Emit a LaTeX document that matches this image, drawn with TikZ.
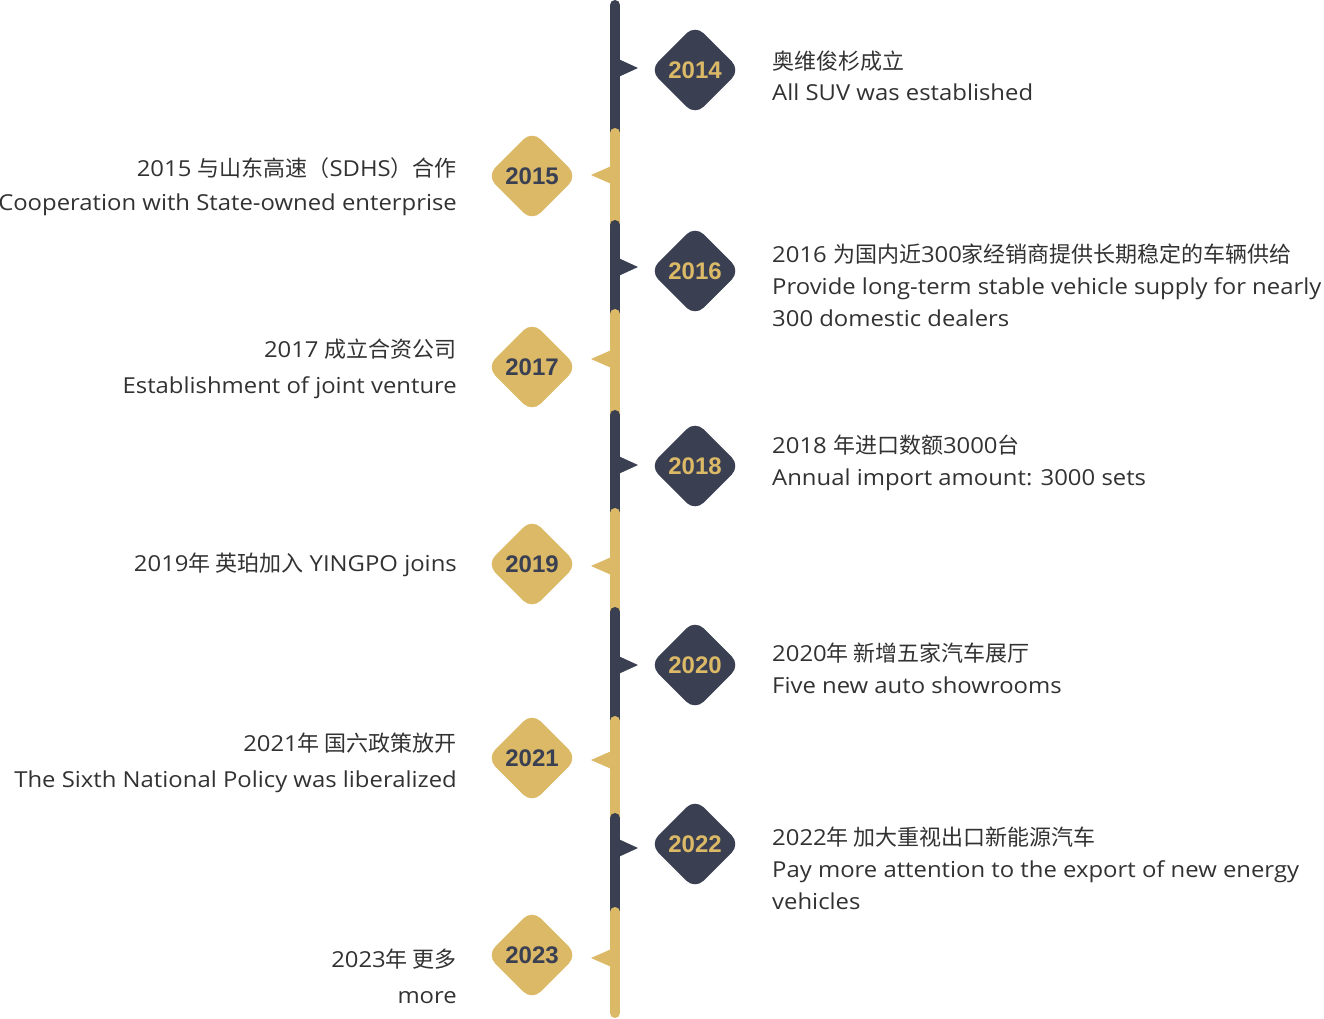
\documentclass[tikz,border=0pt]{standalone}
\usepackage{fontspec}
\setmainfont{Open Sans}[FakeStretch=1.085]
\newfontfamily\cjk{Noto Sans CJK SC}
\newfontfamily\yearfont{Liberation Sans}
\definecolor{navy}{RGB}{58,64,82}
\definecolor{gold}{RGB}{219,185,102}
\definecolor{txt}{RGB}{50,50,50}
\begin{document}
\begin{tikzpicture}[x=1pt,y=-1pt,
  seg/.style={line width=10pt,line cap=round},
  diam/.style={shape=rectangle,rotate=45,minimum size=64pt,rounded corners=12pt,inner sep=0pt},
  yr/.style={font=\yearfont\fontsize{24}{28}\selectfont\bfseries},
  rtxt/.style={anchor=base west,inner sep=0pt,text=txt,font=\fontsize{22}{26}\selectfont},
  ltxt/.style={anchor=base east,inner sep=0pt,text=txt,font=\fontsize{22}{26}\selectfont}]
\useasboundingbox (0,0) rectangle (1324,1019);
% bar segments with pointers
\newcommand{\darkseg}[3]{%
  \draw[seg,navy] (615,#1) -- (615,#2);
  \fill[navy] (614,#3-11) -- (638,#3) -- (614,#3+11) -- cycle;}
\newcommand{\goldseg}[3]{%
  \draw[seg,gold] (615,#1) -- (615,#2);
  \fill[gold] (616,#3-11) -- (591,#3) -- (616,#3+11) -- cycle;}
\darkseg{5}{140}{68}
\goldseg{133}{230}{175}
\darkseg{225}{320}{267}
\goldseg{314}{420}{359}
\darkseg{415}{518}{465}
\goldseg{513}{617}{566}
\darkseg{612}{726}{665}
\goldseg{721}{823}{760}
\darkseg{818}{917}{848}
\goldseg{912}{1013}{958}
% diamonds
\node[diam,fill=navy] (d14) at (695,70) {};
\node[yr,text=gold] (y14) at (695,70) {2014};
\node[diam,fill=gold] (d15) at (532,176) {};
\node[yr,text=navy] (y15) at (532,176) {2015};
\node[diam,fill=navy] (d16) at (695,271) {};
\node[yr,text=gold] (y16) at (695,271) {2016};
\node[diam,fill=gold] (d17) at (532,367) {};
\node[yr,text=navy] (y17) at (532,367) {2017};
\node[diam,fill=navy] (d18) at (695,466) {};
\node[yr,text=gold] (y18) at (695,466) {2018};
\node[diam,fill=gold] (d19) at (532,564) {};
\node[yr,text=navy] (y19) at (532,564) {2019};
\node[diam,fill=navy] (d20) at (695,665) {};
\node[yr,text=gold] (y20) at (695,665) {2020};
\node[diam,fill=gold] (d21) at (532,758) {};
\node[yr,text=navy] (y21) at (532,758) {2021};
\node[diam,fill=navy] (d22) at (695,844) {};
\node[yr,text=gold] (y22) at (695,844) {2022};
\node[diam,fill=gold] (d23) at (532,955) {};
\node[yr,text=navy] (y23) at (532,955) {2023};
% right texts
\node[rtxt] (t14a) at (772,70) {\cjk 奥维俊杉成立};
\node[rtxt] (t14b) at (772,101) {All SUV was established};
\node[rtxt] (t16a) at (772,262) {2016 {\cjk 为国内近}300{\cjk 家经销商提供长期稳定的车辆供给}};
\node[rtxt] (t16b) at (772,294) {Provide long-term stable vehicle supply for nearly};
\node[rtxt] (t16c) at (772,326) {300 domestic dealers};
\node[rtxt] (t18a) at (772,453) {2018 {\cjk 年进口数额}3000{\cjk 台}};
\node[rtxt] (t18b) at (772,485) {Annual import amount: 3000 sets};
\node[rtxt] (t20a) at (772,661) {2020{\cjk 年 新增五家汽车展厅}};
\node[rtxt] (t20b) at (772,693) {Five new auto showrooms};
\node[rtxt] (t22a) at (772,845) {2022{\cjk 年 加大重视出口新能源汽车}};
\node[rtxt] (t22b) at (772,877) {Pay more attention to the export of new energy};
\node[rtxt] (t22c) at (772,909) {vehicles};
% left texts
\node[ltxt] (t15a) at (457,176) {2015 {\cjk 与山东高速（}SDHS{\cjk ）合作}};
\node[ltxt] (t15b) at (457,211) {Cooperation with State-owned enterprise};
\node[ltxt] (t17a) at (457,357) {2017 {\cjk 成立合资公司}};
\node[ltxt] (t17b) at (457,393) {Establishment of joint venture};
\node[ltxt] (t19a) at (457,571) {2019{\cjk 年 英珀加入} YINGPO joins};
\node[ltxt] (t21a) at (457,751) {2021{\cjk 年 国六政策放开}};
\node[ltxt] (t21b) at (457,787) {The Sixth National Policy was liberalized};
\node[ltxt] (t23a) at (457,967) {2023{\cjk 年 更多}};
\node[ltxt] (t23b) at (457,1003) {more};
\end{tikzpicture}
\end{document}
